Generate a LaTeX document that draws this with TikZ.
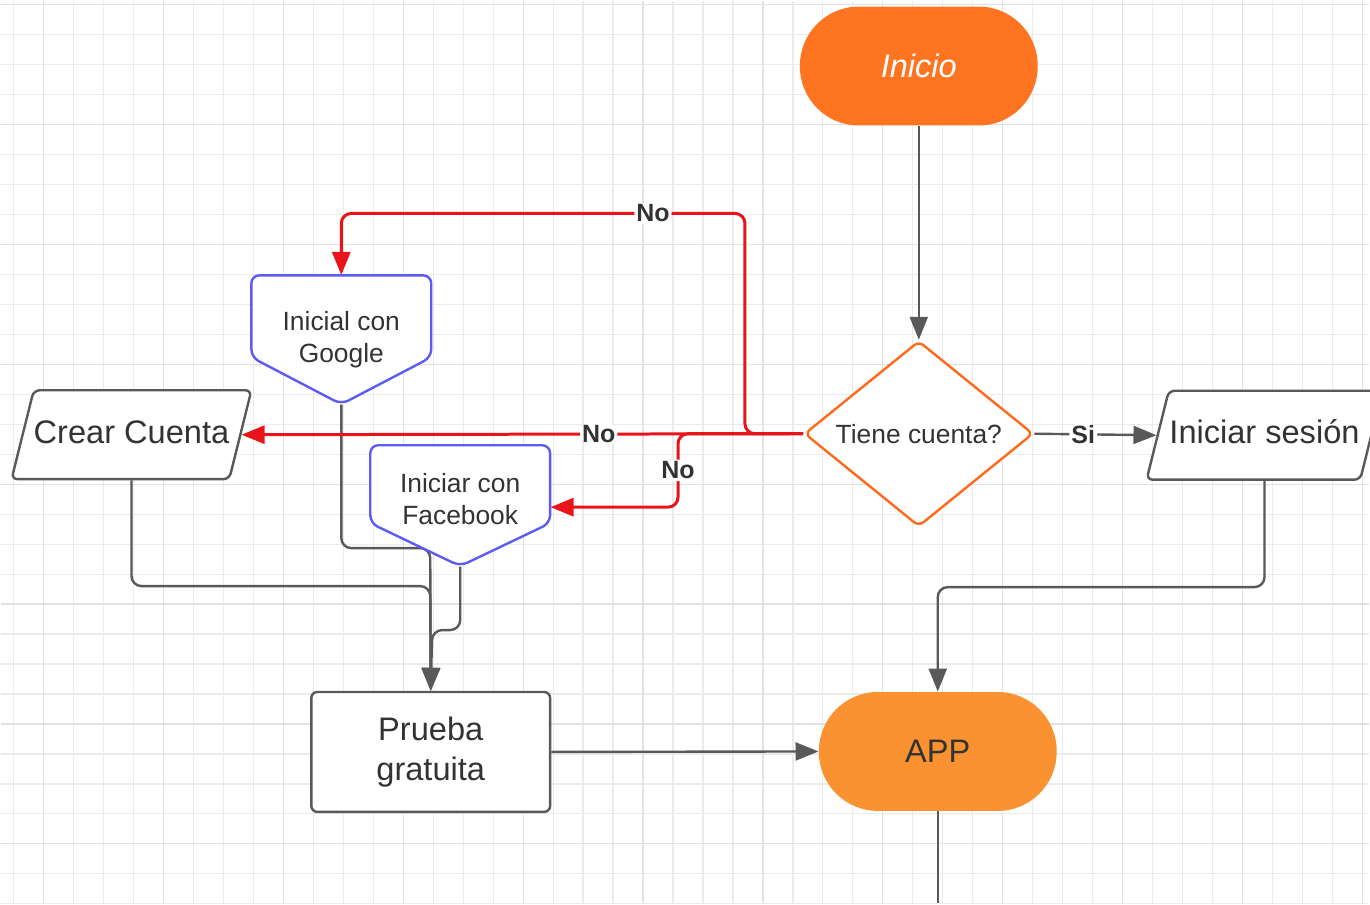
\documentclass[tikz,border=0pt]{standalone}
\usepackage{fontspec}
\setmainfont{Liberation Sans}
\usetikzlibrary{shapes.geometric,arrows.meta}

\definecolor{gridminor}{HTML}{EBEBEB}
\definecolor{gridmajor}{HTML}{E2E2E2}
\definecolor{inicioorange}{HTML}{FF7420}
\definecolor{apporange}{HTML}{FA9232}
\definecolor{diamondorange}{HTML}{FF6A1A}
\definecolor{nodeblue}{HTML}{5C5CF5}
\definecolor{linegray}{HTML}{595959}
\definecolor{nored}{HTML}{E8141A}
\definecolor{textgray}{HTML}{333333}

\pgfdeclarelayer{gridlayer}
\pgfdeclarelayer{linklayer}
\pgfsetlayers{gridlayer,linklayer,main}

\tikzset{
    bigtext/.style={font=\fontsize{16.3}{20}\selectfont, text=textgray},
    smalltext/.style={font=\fontsize{13.2}{16}\selectfont, text=textgray},
    terminal/.style={bigtext, rectangle, rounded corners=29.5pt, minimum width=119pt, minimum height=59.5pt, inner sep=0pt},
    decision/.style={smalltext, diamond, draw=diamondorange, line width=1.2pt, fill=white, rounded corners=3pt, minimum width=114.5pt, minimum height=86.5pt, inner sep=0pt},
    iobox/.style={bigtext, trapezium, trapezium left angle=76, trapezium right angle=104, trapezium stretches body, draw=linegray, line width=1.2pt, fill=white, rounded corners=3pt, text height=12pt, text depth=3.5pt, inner ysep=14.5pt, inner xsep=0pt, minimum width=118pt},
    offpage/.style={draw=nodeblue, line width=1.2pt, fill=white, rounded corners=4pt},
    offtext/.style={smalltext, rectangle, minimum width=90pt, inner sep=0pt, align=center},
    process/.style={bigtext, rectangle, draw=linegray, line width=1.2pt, fill=white, rounded corners=3pt, minimum width=119.5pt, minimum height=60pt, align=center},
    flow/.style={draw=linegray, line width=1.2pt, rounded corners=5pt},
    noflow/.style={draw=nored, line width=1.5pt, rounded corners=5pt},
    tip/.style={-{Triangle[length=11.5pt,width=9pt]}},
    lbl/.style={font=\fontsize{12.5}{14}\selectfont\bfseries, text=textgray, fill=white, inner sep=1pt}
}

\begin{document}
\begin{tikzpicture}[x=0.5pt, y=-0.5pt]
    % background and grid
    \begin{pgfonlayer}{gridlayer}
        \fill[white] (0,0) rectangle (1370,903);
        \foreach \gx in {13,43,...,1363} \draw[gridminor, line width=0.6pt] (\gx,0) -- (\gx,903);
        \foreach \gy in {4,34,...,904} \draw[gridminor, line width=0.6pt] (0,\gy) -- (1370,\gy);
        \foreach \gx in {43,163,...,1363} \draw[gridmajor, line width=0.6pt] (\gx,0) -- (\gx,903);
        \foreach \gy in {4,124,...,844} \draw[gridmajor, line width=0.6pt] (0,\gy) -- (1370,\gy);
    \end{pgfonlayer}
    \useasboundingbox (0,0) rectangle (1370,903);

    % off-page shapes for the two social logins
    \draw[offpage, shift={(341,339.5)}] (-90,-64.5) -- (90,-64.5) -- (90,17.5) -- (0,64.5) -- (-90,17.5) -- cycle;
    \draw[offpage, shift={(460,505.5)}] (-90,-60.5) -- (90,-60.5) -- (90,17.5) -- (0,60.5) -- (-90,17.5) -- cycle;

    % nodes
    \node[terminal, fill=inicioorange, text=white, font=\fontsize{16.3}{20}\selectfont\itshape] (inicio) at (919,65.5) {Inicio};
    \node[decision] (cuenta) at (919,433.5) {Tiene cuenta?};
    \node[iobox] (sesion) at (1265,435) {Iniciar sesión};
    \node[iobox] (crear) at (131,434.5) {Crear Cuenta};
    \node[offtext, minimum height=64.5pt] (google) at (341,339.5) {Inicial con\\Google};
    \node[offtext, minimum height=67pt] (facebook) at (460,499) {Iniciar con\\Facebook};
    \node[process] (prueba) at (430.5,752) {Prueba\\gratuita};
    \node[terminal, fill=apporange] (app) at (938,751.5) {APP};

    % turning points
    \coordinate (gturn) at (745,213);
    \coordinate (fturn) at (678,507);
    \coordinate (gjoin) at (430,548);
    \coordinate (cjoin) at (430,586);
    \coordinate (fjoin) at (432,630);
    \coordinate (sjoin) at (938,587);
    \coordinate (append) at (938,903);

    % connectors
    \begin{pgfonlayer}{linklayer}
        \draw[flow, tip] (inicio) -- (cuenta);
        \draw[flow, tip] (cuenta.east) -- node[lbl, pos=0.4] {Si} (sesion.west);
        \draw[flow, tip] (google.south) |- (gjoin) -- (prueba.north);
        \draw[flow, tip] (crear.south) |- (cjoin) -- (prueba.north);
        \draw[flow, tip] (facebook.south) |- (fjoin) -- (prueba.north);
        \draw[flow, tip] (sesion.south) |- (sjoin) -- (app.north);
        \draw[flow, tip] (prueba.east) -- (app.west);
        \draw[flow] (app.south) -- (append);
        \draw[noflow, tip] (cuenta.west) -- node[lbl, pos=0.364] {No} (crear.east);
        \draw[noflow, tip] (cuenta.west) -| (gturn) -| node[lbl, pos=0.114] {No} (google.north);
        \draw[noflow, tip] (cuenta.west) -| node[lbl, pos=0.75] {No} (fturn) -- (facebook.east |- fturn);
    \end{pgfonlayer}
\end{tikzpicture}
\end{document}
